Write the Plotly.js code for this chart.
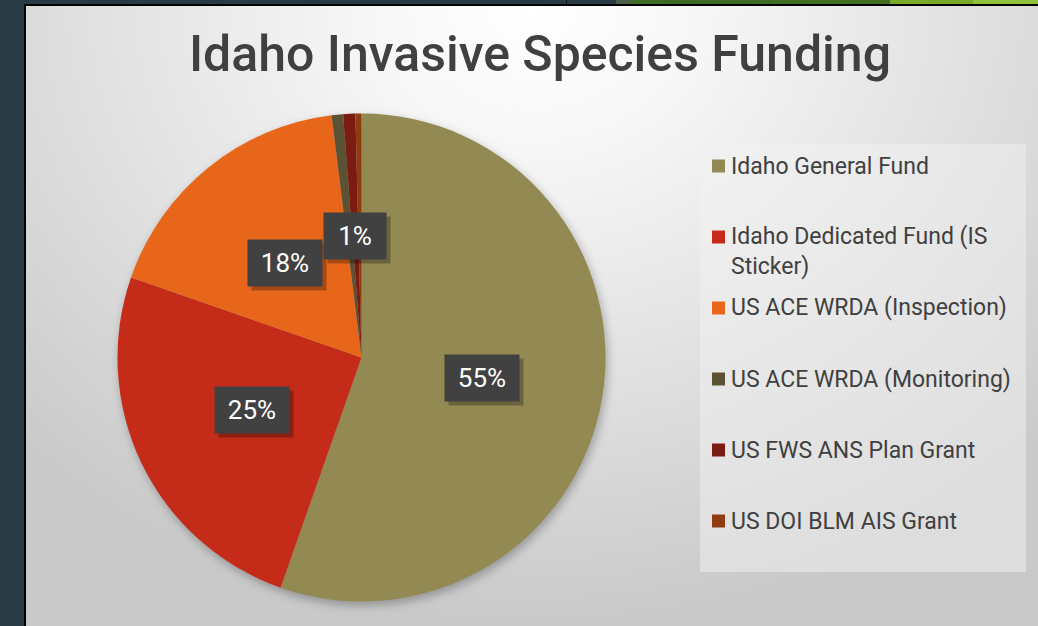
<!DOCTYPE html>
<html>
<head>
<meta charset="utf-8">
<script src="https://cdn.plot.ly/plotly-3.0.1.min.js"></script>
<style>
  html, body { margin:0; padding:0; width:1038px; height:626px; overflow:hidden; background:#283a43; }
  #frame { position:absolute; left:24px; top:4px; width:1014px; height:622px; border-left:2px solid #000; border-top:2px solid #000;
    background: radial-gradient(ellipse 72% 100% at 50% 0%, #ffffff 0%, #f7f7f7 22%, #e4e4e4 55%, #c9c9c9 100%); }
  .strip { position:absolute; top:0; height:4px; }
  #chart { position:absolute; left:0; top:0; width:1038px; height:626px; }
  .pielayer { filter: drop-shadow(2px 4px 5px rgba(0,0,0,0.28)); }
</style>
</head>
<body>
<div id="frame"></div>
<div class="strip" style="left:566px;width:1px;background:#111;"></div>
<div class="strip" style="left:616px;width:16px;background:#4b5f47;"></div>
<div class="strip" style="left:632px;width:140px;background:#3e6b23;"></div>
<div class="strip" style="left:772px;width:118px;background:#416f22;"></div>
<div class="strip" style="left:890px;width:83px;background:#77a92b;"></div>
<div class="strip" style="left:973px;width:65px;background:#8ec13c;"></div>
<div id="chart"></div>
<script>
// ---- data ----
const chartTitle = 'Idaho Invasive Species Funding';
const labels = ['Idaho General Fund', 'Idaho Dedicated Fund (IS Sticker)', 'US ACE WRDA (Inspection)',
                'US ACE WRDA (Monitoring)', 'US FWS ANS Plan Grant', 'US DOI BLM AIS Grant'];
const values = [55.3, 24.9, 17.7, 0.75, 0.8, 0.4];
const colors = ['#938953', '#C52B19', '#E8661A', '#5A5233', '#7C1B13', '#8E3C10'];

// ---- layout helpers (pixel -> paper) ----
const W = 1038, H = 626;
const px = x => x / W;
const py = y => 1 - y / H;
const cx = 361.5, cy = 357.5, R = 244;

const total = values.reduce((a, b) => a + b, 0);

// data labels (boxes) at half radius on each slice's mid angle
const annotations = [];
const shapes = [];
let cum = 0;
const placed = [];
values.forEach((v, i) => {
  const frac = v / total;
  const mid = (cum + frac / 2) * 2 * Math.PI;
  cum += frac;
  const pct = Math.round(frac * 100);
  if (pct < 1) return;
  const lx = cx + 0.5 * R * Math.sin(mid);
  const ly = cy - 0.5 * R * Math.cos(mid);
  const txt = pct + '%';
  const prev = placed.findIndex(p => Math.hypot(p.lx - lx, p.ly - ly) < 40);
  const item = { lx, ly, txt };
  if (prev >= 0) placed[prev] = item; else placed.push(item);
});
placed.forEach(p => {
  const w = p.txt.length * 12 + 36;
  annotations.push({ xref:'paper', yref:'paper', x:px(p.lx), y:py(p.ly), xshift:4, yshift:-4,
    text:' ', showarrow:false, width:w, height:44, bgcolor:'rgba(0,0,0,0.28)', xanchor:'center', yanchor:'middle' });
  annotations.push({ xref:'paper', yref:'paper', x:px(p.lx), y:py(p.ly),
    text:p.txt, showarrow:false, width:w, height:44, bgcolor:'#414141', xanchor:'center', yanchor:'middle',
    font:{ family:'Roboto, sans-serif', size:26, color:'#ffffff' } });
});

// legend (drawn as text + swatches)
function wrap(s, n) {
  if (s.length <= n) return s;
  const cut = s.lastIndexOf(' ', n);
  return s.slice(0, cut) + '<br>' + s.slice(cut + 1);
}
shapes.push({ type:'rect', xref:'paper', yref:'paper', x0:px(700), x1:px(1026), y0:py(572), y1:py(144),
  fillcolor:'rgba(242,242,242,0.5)', line:{ width:0 }, layer:'below' });
labels.forEach((lab, i) => {
  const yc = 166 + i * 71;
  shapes.push({ type:'rect', xref:'paper', yref:'paper', x0:px(712), x1:px(725), y0:py(yc + 6.5), y1:py(yc - 6.5),
    fillcolor:colors[i], line:{ width:0 } });
  annotations.push({ xref:'paper', yref:'paper', x:px(729), y:py(yc - 15.5), xanchor:'left', yanchor:'top',
    text:wrap(lab, 24), align:'left', showarrow:false,
    font:{ family:'Roboto, sans-serif', size:23, color:'#404040' } });
});

const trace = {
  type:'pie', labels:labels, values:values, sort:false, direction:'clockwise', rotation:0,
  marker:{ colors:colors, line:{ width:0 } }, textinfo:'none', hoverinfo:'label+percent',
  showlegend:false,
  domain:{ x:[px(cx - R), px(cx + R)], y:[py(cy + R), py(cy - R)] }
};

const layout = {
  width:W, height:H, margin:{ l:0, r:0, t:0, b:0, pad:0 },
  paper_bgcolor:'rgba(0,0,0,0)', plot_bgcolor:'rgba(0,0,0,0)',
  title:{ text:chartTitle, x:px(540), xanchor:'center', y:py(53), yanchor:'middle',
    font:{ family:'Roboto, sans-serif', size:50, weight:500, color:'#404040' } },
  shapes:shapes, annotations:annotations, showlegend:false
};

Plotly.newPlot('chart', [trace], layout, { displayModeBar:false, staticPlot:false });
</script>
</body>
</html>
